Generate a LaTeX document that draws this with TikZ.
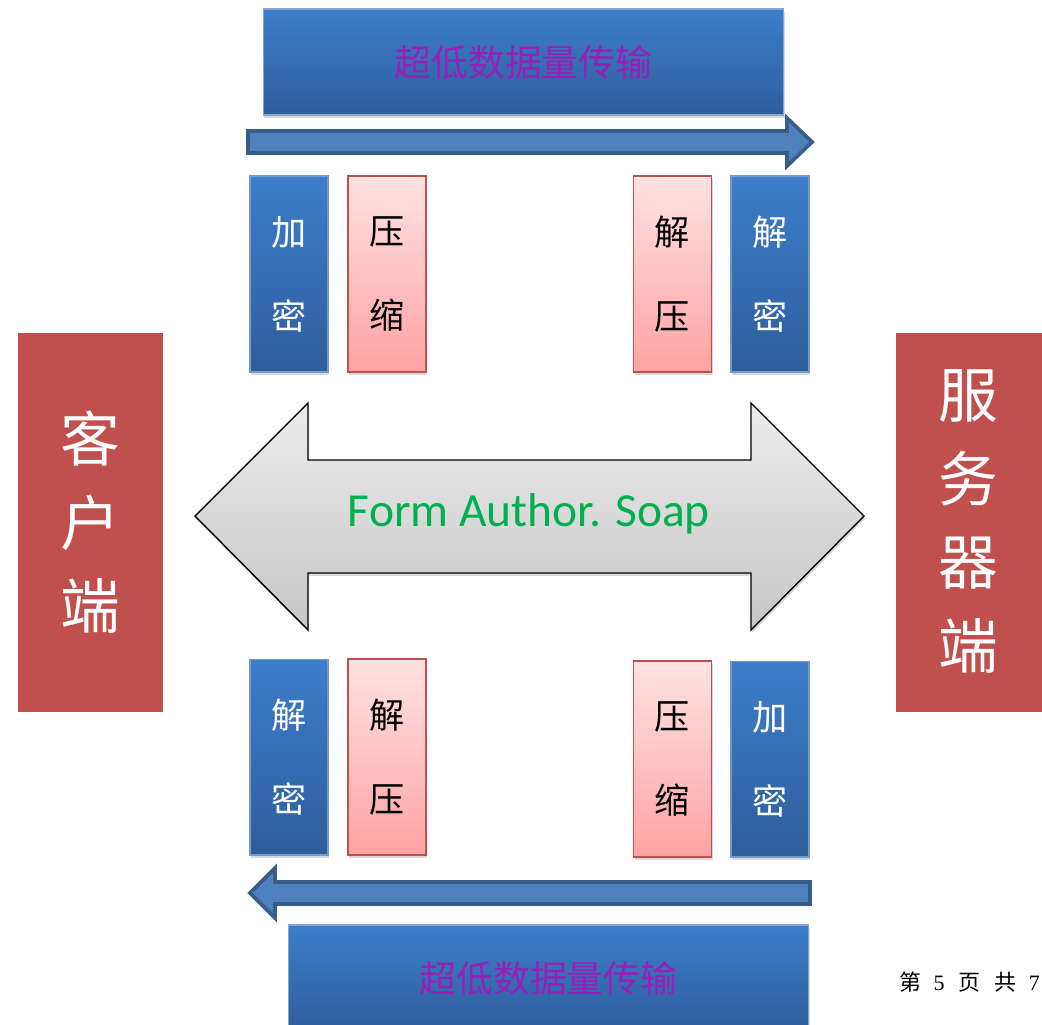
\documentclass[tikz,border=0pt]{standalone}
\usepackage{fontspec}
\setmainfont{Liberation Serif}
\newfontfamily\cjk{Noto Sans CJK SC}
\newfontfamily\calibri{Carlito}
\usetikzlibrary{shadows}

\definecolor{blueTop}{HTML}{3D7DCB}
\definecolor{blueBot}{HTML}{2D5E9B}
\definecolor{blueEdge}{HTML}{4F81BD}
\definecolor{pinkTop}{HTML}{FFE2E2}
\definecolor{pinkBot}{HTML}{FFA3A3}
\definecolor{redEdge}{HTML}{C0504D}
\definecolor{pipeFill}{HTML}{4F81BD}
\definecolor{pipeEdge}{HTML}{385D8A}
\definecolor{titlePurple}{HTML}{9A1FBA}
\definecolor{soapGreen}{HTML}{00B050}

\begin{document}
\begin{tikzpicture}[x=0.02cm, y=-0.02cm]
    \useasboundingbox (0,0) rectangle (1042,1025);

    % Stiluri.
    \tikzstyle{umbra}    = [drop shadow={opacity=0.3, shadow xshift=0.6pt, shadow yshift=-1.6pt}]
    \tikzstyle{banda}    = [umbra, draw=blueEdge!70, line width=0.6pt, top color=blueTop, bottom color=blueBot,
                            minimum width=10.42cm, minimum height=2.12cm, inner sep=0pt,
                            text=titlePurple, font=\cjk\fontsize{21}{24}\selectfont]
    \tikzstyle{albastru} = [umbra, draw=blueEdge!80, line width=0.6pt, top color=blueTop, bottom color=blueBot,
                            minimum width=1.56cm, minimum height=3.92cm, inner sep=0pt, align=center,
                            text=white, font=\cjk\fontsize{20}{47.8}\selectfont]
    \tikzstyle{roz}      = [umbra, draw=redEdge, line width=0.9pt, top color=pinkTop, bottom color=pinkBot,
                            minimum width=1.56cm, minimum height=3.92cm, inner sep=0pt, align=center,
                            text=black, font=\cjk\fontsize{20}{47.8}\selectfont]
    \tikzstyle{scris}    = [inner sep=0pt, align=center, text=white, font=\cjk\fontsize{34}{47.5}\selectfont]
    \tikzstyle{capat}    = [scris, drop shadow={opacity=0.25, shadow xshift=0pt, shadow yshift=-1pt},
                            draw=white, line width=0.16cm, fill=redEdge, minimum height=7.74cm]
    \tikzstyle{teava}    = [fill=pipeFill, draw=pipeEdge, line width=0.075cm, line join=miter]

    % Banda de sus si sageata spre dreapta.
    \node[banda] (sus) at (523.5,62) {超低数据量传输};
    \path[teava] (248,131) -- (787,131) -- (787,118) -- (812,142)
        -- (787,166) -- (787,153) -- (248,153) -- cycle;

    % Blocurile de sus.
    \node[albastru] (criptSus)   at (289,274)   {加\\密};
    \node[roz]      (comprSus)   at (387,274)   {压\\缩};
    \node[roz]      (decomprSus) at (672.5,274) {解\\压};
    \node[albastru] (decriptSus) at (770,274)   {解\\密};

    % Clientul si serverul.
    \node[capat, minimum width=3.06cm] (client) at (90.5,522.5) {客\\户\\端};
    \node[capat, minimum width=3.36cm] (server) at (976,522.5) {};
    \node[scris] (serverText) at (968,521.5) {服\\务\\器\\端};

    % Sageata dubla din mijloc.
    \path[umbra, draw=black, line width=0.8pt, top color=gray!14, bottom color=gray!45]
        (195,516) -- (308,403) -- (308,460) -- (751,460) -- (751,403) -- (864,516)
        -- (751,630) -- (751,573) -- (308,573) -- (308,630) -- cycle;
    \node[text=soapGreen, font=\calibri\fontsize{27}{32}\selectfont] (soap) at (529,514) {Form Author. Soap};

    % Blocurile de jos.
    \node[albastru] (decriptJos) at (289,757)   {解\\密};
    \node[roz]      (decomprJos) at (387,757)   {解\\压};
    \node[roz]      (comprJos)   at (672.5,759) {压\\缩};
    \node[albastru] (criptJos)   at (770,759)   {加\\密};

    % Sageata spre stanga si banda de jos.
    \path[teava] (810,882) -- (275,882) -- (275,868) -- (250,893)
        -- (275,918) -- (275,904) -- (810,904) -- cycle;
    \node[banda] (jos) at (548.5,978) {超低数据量传输};

    % Subsolul paginii.
    \node[anchor=west, inner sep=0pt, font=\fontsize{12.5}{14}\selectfont] (pagina) at (899,982)
        {{\cjk 第}\hspace{7pt}5\hspace{8pt}{\cjk 页}\hspace{8pt}{\cjk 共}\hspace{7pt}7};
\end{tikzpicture}
\end{document}
